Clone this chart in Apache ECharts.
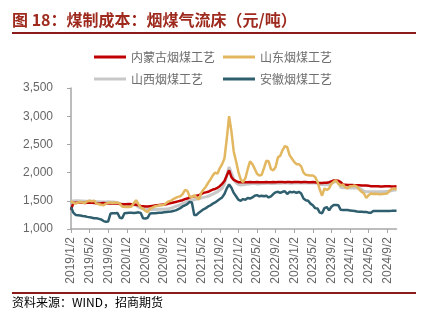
<!DOCTYPE html>
<html><head><meta charset="utf-8">
<script src="https://cdn.jsdelivr.net/npm/echarts@6/dist/echarts.min.js"></script>
<style>html,body{margin:0;padding:0;background:#fff}#c{width:425px;height:321px}</style>
</head><body><div id="c"></div>
<script>
// half-month sampling: 2019/1/2, 2019/1/17, ... 2024/11/2
const startYear = 2019, endLabel = '2024/11/2';
const categories = [];
(function(){ for (let y = startYear; y <= 2024; y++) { for (let m = 1; m <= 12; m++) {
  const a = y + '/' + m + '/2'; categories.push(a); if (a === endLabel) return; categories.push(y + '/' + m + '/17'); } } })();

const xTickLabels = ['2019/1/2','2019/5/2','2019/9/2','2020/1/2','2020/5/2','2020/9/2','2021/1/2','2021/5/2','2021/9/2',
  '2022/1/2','2022/5/2','2022/9/2','2023/1/2','2023/5/2','2023/9/2','2024/1/2','2024/5/2','2024/9/2'];
const yTicks = [1000, 1500, 2000, 2500, 3000, 3500];
const seriesNames = ['内蒙古烟煤工艺','山东烟煤工艺','山西烟煤工艺','安徽烟煤工艺'];

const neimenggu = [
1340,1460,1465,1470,1470,1465,1460,1465,1470,1465,
1460,1455,1450,1455,1460,1455,1450,1455,1450,1455,
1450,1445,1440,1440,1440,1445,1440,1435,1430,1420,
1410,1405,1400,1400,1405,1410,1415,1420,1425,1430,
1435,1440,1450,1460,1470,1480,1490,1500,1510,1530,
1540,1560,1570,1580,1590,1600,1620,1640,1650,1660,
1680,1700,1710,1730,1760,1800,1850,1950,2040,1920,
1870,1850,1830,1830,1835,1830,1830,1835,1830,1830,
1835,1830,1830,1830,1835,1830,1830,1835,1830,1835,
1835,1835,1830,1835,1835,1830,1835,1835,1835,1830,
1835,1835,1830,1830,1835,1830,1820,1815,1815,1820,
1820,1830,1845,1860,1860,1855,1830,1790,1785,1780,
1780,1780,1775,1775,1775,1770,1770,1770,1765,1760,
1760,1760,1760,1755,1755,1760,1760,1760,1755,1755,1760];

const shandong = [
1500,1460,1450,1470,1480,1470,1460,1490,1500,1490,
1500,1450,1440,1430,1420,1450,1460,1470,1460,1470,
1465,1450,1400,1390,1395,1390,1400,1460,1510,1440,
1380,1360,1320,1300,1360,1380,1400,1410,1420,1420,
1430,1460,1490,1500,1530,1550,1570,1580,1620,1690,
1680,1580,1560,1600,1560,1520,1640,1700,1750,1820,
1880,1950,2000,1980,2080,2150,2250,2600,3000,2730,
2370,2200,2010,1880,1830,1900,2060,2200,2150,2070,
1980,1950,1960,2080,2210,2200,2060,2040,2100,2270,
2300,2400,2470,2450,2310,2250,2190,2150,2150,2110,
2000,1960,1955,1950,1950,1920,1840,1700,1590,1720,
1690,1720,1800,1840,1860,1800,1770,1790,1740,1720,
1760,1760,1770,1750,1700,1660,1630,1550,1600,1630,
1620,1625,1620,1615,1620,1625,1630,1680,1710,1720,1700];

const shanxi = [
1495,1495,1500,1500,1495,1495,1490,1490,1495,1490,
1490,1485,1485,1480,1480,1480,1485,1480,1480,1475,
1470,1450,1440,1440,1440,1440,1435,1430,1420,1390,
1370,1360,1350,1345,1345,1345,1345,1350,1350,1350,
1350,1355,1360,1370,1385,1400,1415,1430,1450,1470,
1490,1500,1510,1520,1530,1540,1550,1560,1570,1580,
1600,1620,1640,1660,1690,1720,1800,1950,2100,1990,
1880,1820,1790,1780,1785,1790,1800,1800,1805,1805,
1800,1800,1805,1805,1810,1810,1805,1805,1810,1810,
1810,1815,1815,1815,1810,1810,1815,1815,1815,1815,
1815,1815,1815,1815,1815,1815,1810,1790,1790,1785,
1785,1790,1800,1835,1840,1835,1740,1730,1730,1730,
1725,1725,1730,1725,1720,1700,1670,1660,1660,1660,
1660,1660,1660,1660,1660,1665,1665,1670,1680,1690,1690];

const anhui = [
1390,1290,1250,1245,1240,1230,1225,1215,1210,1200,
1190,1190,1180,1170,1140,1130,1135,1275,1280,1280,
1285,1200,1190,1280,1285,1290,1290,1285,1290,1295,
1285,1190,1185,1200,1275,1280,1280,1285,1290,1290,
1295,1300,1305,1310,1320,1330,1350,1370,1400,1420,
1440,1480,1470,1250,1250,1290,1320,1350,1370,1400,
1420,1450,1470,1500,1530,1560,1620,1720,1790,1730,
1640,1580,1520,1500,1530,1520,1550,1540,1560,1590,
1600,1580,1590,1580,1590,1560,1580,1620,1650,1660,
1640,1660,1670,1620,1660,1650,1660,1640,1660,1630,
1540,1510,1500,1450,1420,1370,1365,1290,1280,1370,
1390,1330,1395,1425,1425,1420,1340,1335,1335,1335,
1330,1325,1320,1310,1305,1305,1300,1300,1290,1290,
1320,1320,1320,1318,1318,1320,1320,1320,1322,1325,1325];

const colors = {'内蒙古烟煤工艺':'#c00000','山东烟煤工艺':'#e2b75f','山西烟煤工艺':'#c8c8c8','安徽烟煤工艺':'#2f5f6e'};
const tickSet = new Set(xTickLabels);
const FONT = '"Noto Sans CJK SC", "Liberation Sans", sans-serif';
const chart = echarts.init(document.getElementById('c'), null, {renderer:'canvas'});

function mk(name, data, z, w){ return {name, type:'line', data, symbol:'none', z, lineStyle:{color:colors[name], width:w}, itemStyle:{color:colors[name]}, emphasis:{disabled:true}}; }

chart.setOption({
  animation:false,
  textStyle:{fontFamily:FONT},
  grid:{left:71, right:28.5, top:88, bottom:92, containLabel:false, outerBoundsMode:'none'},
  legend:[
    {orient:'vertical', left:89, top:46, itemGap:10, itemWidth:32, itemHeight:3, icon:'rect',
     data:['内蒙古烟煤工艺','山西烟煤工艺'], textStyle:{color:'#6e6e6e', fontSize:12, fontFamily:FONT}},
    {orient:'vertical', left:218, top:46, itemGap:10, itemWidth:32, itemHeight:3, icon:'rect',
     data:['山东烟煤工艺','安徽烟煤工艺'], textStyle:{color:'#6e6e6e', fontSize:12, fontFamily:FONT}}
  ],
  xAxis:{type:'category', data:categories, boundaryGap:false,
    axisLine:{lineStyle:{color:'#a6a6a6', width:1.5}},
    axisTick:{show:true, length:4, interval:(i,v)=>tickSet.has(v), lineStyle:{color:'#a6a6a6'}},
    axisLabel:{rotate:90, interval:(i,v)=>tickSet.has(v), color:'#666666', fontSize:12, margin:8, fontFamily:'"Liberation Sans", sans-serif'},
    splitLine:{show:false}},
  yAxis:{type:'value', min:yTicks[0], max:yTicks[yTicks.length-1], interval:500,
    axisLine:{show:true, lineStyle:{color:'#a6a6a6', width:1.5}},
    axisTick:{show:true, length:4, lineStyle:{color:'#a6a6a6'}},
    axisLabel:{color:'#666666', fontSize:12, margin:18, fontFamily:'"Liberation Sans", sans-serif',
      formatter:v=>v.toLocaleString('en-US')},
    splitLine:{show:false}},
  series:[
    mk('山西烟煤工艺', shanxi, 2, 3),
    mk('内蒙古烟煤工艺', neimenggu, 3, 2.5),
    mk('山东烟煤工艺', shandong, 4, 2.5),
    mk('安徽烟煤工艺', anhui, 5, 2.5)
  ],
  graphic:[
    {type:'text', left:12, top:12, style:{text:'图 18：煤制成本：烟煤气流床（元/吨）', font:'bold 16px ' + FONT, fill:'#9e2a1e'}},
    {type:'line', shape:{x1:12, y1:33, x2:416, y2:33}, style:{stroke:'#8b1a1a', lineWidth:2}},
    {type:'line', shape:{x1:12, y1:293, x2:416, y2:293}, style:{stroke:'#8b1a1a', lineWidth:2}},
    {type:'text', left:12, top:296, style:{text:'资料来源：WIND，招商期货', font:'12px ' + FONT, fill:'#000'}}
  ]
});
</script></body></html>
